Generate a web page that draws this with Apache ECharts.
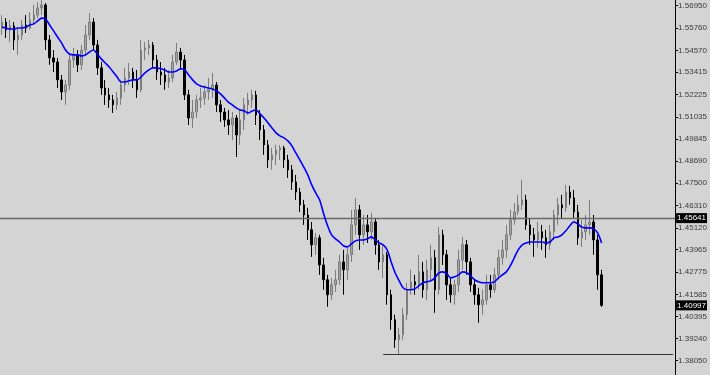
<!DOCTYPE html>
<html>
<head>
<meta charset="utf-8">
<script src="https://cdn.jsdelivr.net/npm/echarts@6/dist/echarts.min.js"></script>
<style>html,body{margin:0;padding:0;background:#d4d4d4;}#c{width:710px;height:375px;}</style>
</head>
<body>
<div id="c"></div>
<script>
// ---- data ----
const slotCount = 170; // bar slots across the plot (last ones empty: chart shift)
const opens = [1.5576,1.5608,1.5566,1.5587,1.5513,1.5539,1.5592,1.5576,1.5619,1.5645,
1.5683,1.5699,1.5513,1.5417,1.5395,1.5300,1.5236,1.5273,1.5406,1.5433,
1.5380,1.5459,1.5539,1.5608,1.5486,1.5364,1.5257,1.5220,1.5193,1.5167,
1.5204,1.5273,1.5310,1.5342,1.5300,1.5247,1.5459,1.5470,1.5486,1.5406,
1.5342,1.5326,1.5289,1.5310,1.5395,1.5448,1.5406,1.5220,1.5097,1.5129,
1.5193,1.5204,1.5236,1.5247,1.5273,1.5167,1.5129,1.5087,1.5060,1.5097,
1.5007,1.5087,1.5167,1.5193,1.5220,1.5113,1.5034,1.4954,1.4874,1.4901,
1.4927,1.4938,1.4874,1.4821,1.4757,1.4703,1.4635,1.4581,1.4502,1.4422,
1.4459,1.4315,1.4236,1.4156,1.4209,1.4236,1.4331,1.4289,1.4369,1.4528,
1.4608,1.4475,1.4528,1.4491,1.4544,1.4422,1.4331,1.4369,1.4156,1.4023,
1.3917,1.3943,1.4050,1.4183,1.4225,1.4209,1.4278,1.4183,1.4289,1.4353,
1.4183,1.4475,1.4369,1.4209,1.4156,1.4209,1.4342,1.4422,1.4331,1.4209,
1.4156,1.4103,1.4129,1.4209,1.4183,1.4262,1.4353,1.4395,1.4475,1.4555,
1.4597,1.4635,1.4661,1.4528,1.4475,1.4448,1.4491,1.4459,1.4422,1.4491,
1.4581,1.4635,1.4619,1.4703,1.4672,1.4597,1.4459,1.4491,1.4528,1.4544,
1.4448,1.4262];
const closes = [1.5608,1.5566,1.5587,1.5513,1.5539,1.5592,1.5576,1.5619,1.5645,1.5683,
1.5699,1.5513,1.5417,1.5395,1.5300,1.5236,1.5273,1.5406,1.5433,1.5380,
1.5459,1.5539,1.5608,1.5486,1.5364,1.5257,1.5220,1.5193,1.5167,1.5204,
1.5273,1.5310,1.5342,1.5300,1.5247,1.5459,1.5470,1.5486,1.5406,1.5342,
1.5326,1.5289,1.5310,1.5395,1.5448,1.5406,1.5220,1.5097,1.5129,1.5193,
1.5204,1.5236,1.5247,1.5273,1.5167,1.5129,1.5087,1.5060,1.5097,1.5007,
1.5087,1.5167,1.5193,1.5220,1.5113,1.5034,1.4954,1.4874,1.4901,1.4927,
1.4938,1.4874,1.4821,1.4757,1.4703,1.4635,1.4581,1.4502,1.4422,1.4459,
1.4315,1.4236,1.4156,1.4209,1.4236,1.4331,1.4289,1.4369,1.4528,1.4608,
1.4475,1.4528,1.4491,1.4544,1.4422,1.4331,1.4369,1.4156,1.4023,1.3917,
1.3943,1.4050,1.4183,1.4225,1.4209,1.4278,1.4183,1.4289,1.4353,1.4183,
1.4475,1.4369,1.4209,1.4156,1.4209,1.4342,1.4422,1.4331,1.4209,1.4156,
1.4103,1.4129,1.4209,1.4183,1.4262,1.4353,1.4395,1.4475,1.4555,1.4597,
1.4635,1.4661,1.4528,1.4475,1.4448,1.4491,1.4459,1.4422,1.4491,1.4581,
1.4635,1.4619,1.4703,1.4672,1.4597,1.4459,1.4491,1.4528,1.4544,1.4448,
1.4262,1.40997];
const highs = [1.5645,1.5629,1.5619,1.5608,1.5576,1.5619,1.5645,1.5661,1.5699,1.5714,
1.5725,1.5709,1.5539,1.5459,1.5417,1.5326,1.5300,1.5433,1.5470,1.5459,
1.5486,1.5592,1.5656,1.5629,1.5513,1.5395,1.5300,1.5257,1.5220,1.5236,
1.5300,1.5364,1.5390,1.5364,1.5353,1.5513,1.5502,1.5513,1.5502,1.5433,
1.5395,1.5364,1.5353,1.5433,1.5497,1.5470,1.5433,1.5247,1.5193,1.5220,
1.5257,1.5273,1.5310,1.5337,1.5289,1.5193,1.5151,1.5140,1.5129,1.5113,
1.5140,1.5204,1.5231,1.5247,1.5242,1.5140,1.5060,1.4980,1.4938,1.4954,
1.4954,1.4949,1.4901,1.4847,1.4794,1.4725,1.4661,1.4619,1.4544,1.4486,
1.4475,1.4353,1.4262,1.4246,1.4289,1.4369,1.4395,1.4406,1.4608,1.4672,
1.4635,1.4581,1.4581,1.4592,1.4565,1.4448,1.4422,1.4384,1.4183,1.4050,
1.3980,1.4087,1.4220,1.4289,1.4262,1.4369,1.4331,1.4342,1.4422,1.4395,
1.4517,1.4502,1.4395,1.4246,1.4236,1.4395,1.4464,1.4448,1.4353,1.4236,
1.4193,1.4183,1.4262,1.4262,1.4299,1.4395,1.4448,1.4528,1.4608,1.4645,
1.4688,1.4768,1.4688,1.4565,1.4512,1.4544,1.4528,1.4502,1.4528,1.4608,
1.4672,1.4688,1.4741,1.4736,1.4714,1.4635,1.4555,1.4581,1.4661,1.4581,
1.4475,1.4289];
const lows = [1.5539,1.5523,1.5502,1.5459,1.5433,1.5513,1.5550,1.5566,1.5592,1.5629,
1.5645,1.5459,1.5380,1.5342,1.5257,1.5193,1.5167,1.5247,1.5364,1.5342,
1.5353,1.5433,1.5513,1.5459,1.5326,1.5220,1.5167,1.5151,1.5124,1.5140,
1.5167,1.5236,1.5273,1.5257,1.5204,1.5236,1.5406,1.5433,1.5364,1.5300,
1.5273,1.5247,1.5257,1.5289,1.5380,1.5353,1.5193,1.5060,1.5044,1.5097,
1.5151,1.5167,1.5193,1.5204,1.5129,1.5076,1.5049,1.5007,1.4980,1.4890,
1.4954,1.5034,1.5113,1.5151,1.5060,1.4980,1.4901,1.4831,1.4821,1.4847,
1.4874,1.4831,1.4778,1.4714,1.4661,1.4597,1.4528,1.4448,1.4358,1.4369,
1.4262,1.4183,1.4092,1.4129,1.4172,1.4209,1.4156,1.4236,1.4331,1.4475,
1.4395,1.4422,1.4432,1.4448,1.4369,1.4289,1.4246,1.4103,1.3970,1.3874,
1.3840,1.3917,1.4023,1.4156,1.4156,1.4183,1.4140,1.4129,1.4236,1.4060,
1.4156,1.4315,1.4129,1.4113,1.4103,1.4172,1.4289,1.4262,1.4172,1.4103,
1.4007,1.4050,1.4103,1.4140,1.4167,1.4236,1.4315,1.4353,1.4448,1.4528,
1.4581,1.4608,1.4502,1.4422,1.4358,1.4406,1.4395,1.4353,1.4395,1.4448,
1.4528,1.4565,1.4597,1.4635,1.4565,1.4422,1.4411,1.4448,1.4475,1.4369,
1.4183,1.4092];
const maValues = [1.5581,1.5576,1.5571,1.5571,1.5576,1.5576,1.5581,1.5592,1.5598,1.5614,
1.5629,1.5624,1.5592,1.5561,1.5528,1.5497,1.5459,1.5438,1.5433,1.5433,
1.5428,1.5433,1.5448,1.5459,1.5438,1.5412,1.5390,1.5369,1.5342,1.5315,
1.5289,1.5289,1.5295,1.5300,1.5300,1.5315,1.5337,1.5353,1.5364,1.5364,
1.5359,1.5353,1.5342,1.5342,1.5348,1.5359,1.5353,1.5326,1.5300,1.5279,
1.5268,1.5262,1.5257,1.5252,1.5242,1.5226,1.5204,1.5182,1.5167,1.5151,
1.5140,1.5135,1.5124,1.5135,1.5140,1.5119,1.5097,1.5071,1.5044,1.5018,
1.5002,1.4991,1.4975,1.4949,1.4911,1.4874,1.4836,1.4794,1.4741,1.4698,
1.4661,1.4587,1.4523,1.4475,1.4454,1.4437,1.4417,1.4411,1.4427,1.4443,
1.4448,1.4448,1.4454,1.4464,1.4448,1.4432,1.4422,1.4395,1.4331,1.4273,
1.4231,1.4193,1.4183,1.4183,1.4188,1.4204,1.4220,1.4225,1.4231,1.4246,
1.4273,1.4278,1.4268,1.4246,1.4252,1.4262,1.4278,1.4273,1.4257,1.4236,
1.4225,1.4220,1.4220,1.4220,1.4225,1.4246,1.4262,1.4278,1.4310,1.4353,
1.4395,1.4422,1.4432,1.4437,1.4437,1.4437,1.4437,1.4432,1.4437,1.4459,
1.4464,1.4475,1.4497,1.4523,1.4544,1.4533,1.4517,1.4512,1.4512,1.4507,
1.4486,1.4432];
const tickLabels = [1.56950,1.55760,1.54570,1.53415,1.52225,1.51035,1.49845,1.48690,1.47500,
1.46310,1.45120,1.43965,1.42775,1.41585,1.40395,1.39240,1.38050];
const levelLine = 1.45641;   // horizontal level with label
const bidPrice = 1.40997;    // current price label
const lowLine = 1.3840;      // support line at the low
const lowLineStart = 96;     // bar index where the low line begins
const yMin = 1.37289, yMax = 1.57253;

// ---- build ----
const categories = Array.from({length: slotCount}, (_, i) => String(i + 1));
const candles = opens.map((o, i) => [o, closes[i], lows[i], highs[i]]);

const chart = echarts.init(document.getElementById('c'), null, {renderer: 'canvas'});
const boxLabel = (txt) => ({
  show: true, position: 'end', distance: 1, formatter: txt,
  color: '#ffffff', backgroundColor: '#000000', padding: [1, 1, 0, 1],
  fontSize: 8, lineHeight: 9, fontFamily: 'Liberation Sans Narrow, Liberation Sans, sans-serif'
});
chart.setOption({
  animation: false,
  backgroundColor: '#d4d4d4',
  grid: {left: 0, right: 30, top: 0, bottom: 0},
  xAxis: {type: 'category', data: categories, show: false, boundaryGap: true},
  yAxis: {
    type: 'value', position: 'right', min: yMin, max: yMax, scale: true,
    axisLine: {show: true, lineStyle: {color: '#000000', width: 1}},
    axisTick: {show: true, inside: false, length: 3, lineStyle: {color: '#000000'}, customValues: tickLabels},
    axisLabel: {show: true, margin: 3, customValues: tickLabels, color: '#3a3a3a', fontSize: 8,
      fontFamily: 'Liberation Sans Narrow, Liberation Sans, sans-serif',
      formatter: v => v.toFixed(5)},
    splitLine: {show: false}
  },
  series: [
    {
      type: 'candlestick', data: candles, barWidth: 2,
      itemStyle: {color: '#a4a4a4', color0: '#000000', borderColor: '#7c7c7c', borderColor0: '#000000', borderWidth: 1},
      markLine: {
        silent: true, symbol: 'none', animation: false, precision: 5,
        data: [
          {yAxis: levelLine, lineStyle: {color: '#6a6a6a', width: 1.3, type: 'solid'}, label: boxLabel('1.45641')},
          {yAxis: bidPrice, lineStyle: {color: 'rgba(0,0,0,0)', width: 1}, label: boxLabel('1.40997')},
          [{coord: [lowLineStart, lowLine], lineStyle: {color: '#333333', width: 1, type: 'solid'}, label: {show: false}},
           {coord: [slotCount - 1, lowLine]}]
        ]
      }
    },
    {
      type: 'line', data: maValues, symbol: 'none', smooth: 0.3,
      lineStyle: {color: '#0000ff', width: 1.6}, z: 5
    }
  ]
});
</script>
</body>
</html>
